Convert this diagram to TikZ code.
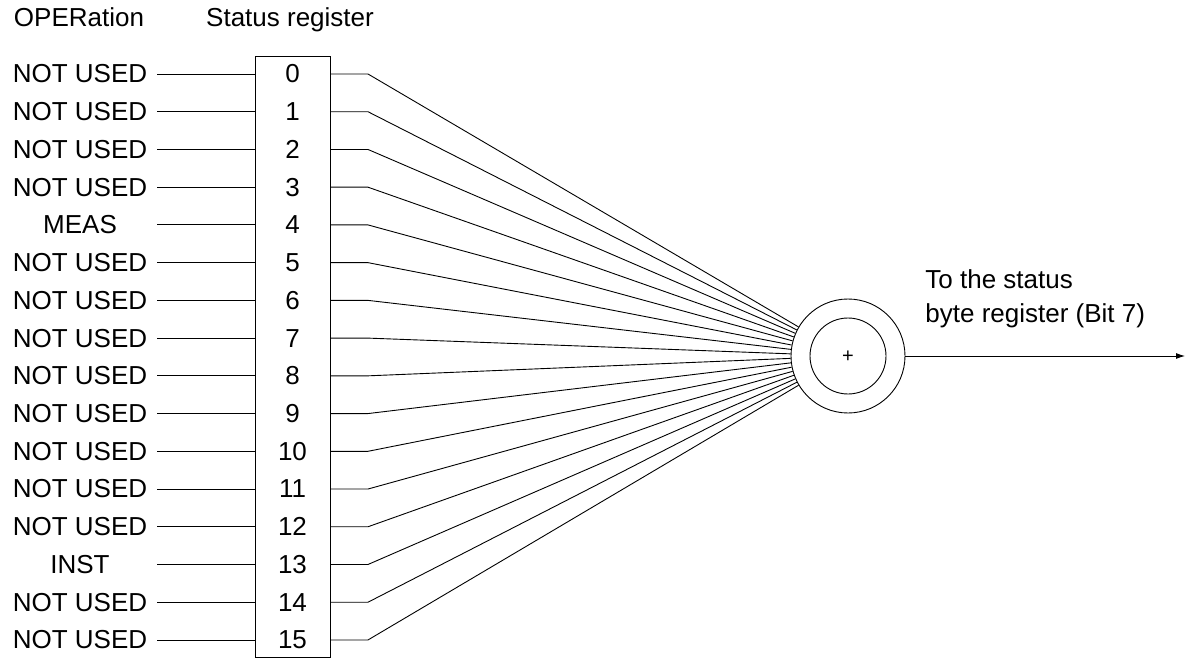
\documentclass[tikz,border=0pt]{standalone}
\usepackage{fontspec}
\setmainfont{Liberation Sans}
\usetikzlibrary{arrows.meta}
\begin{document}
\begin{tikzpicture}[x=1pt,y=-1pt, line width=0.9pt,
  lbl/.style={font=\fontsize{26}{34}\selectfont, inner sep=0pt},
  regbox/.style={draw, minimum width=75pt, minimum height=601pt, inner sep=0pt},
  ring/.style={circle, draw, inner sep=0pt},
  wire/.style={line width=0.9pt}]
\useasboundingbox (0,0) rectangle (1186,660);
\node[lbl, anchor=base] (h1) at (79,27) {OPERation};
\node[lbl, anchor=base] (h2) at (290,27) {Status register};
\node[regbox] (reg) at (292.5,356.5) {};
\node[ring, minimum size=114pt] (c) at (848,356) {};
\node[ring, minimum size=76pt] (ci) at (848,356) {};
\node[font=\fontsize{20}{20}\selectfont, inner sep=0pt] (plus) at (848,357) {+};
\foreach \i/\t in {0/NOT USED,1/NOT USED,2/NOT USED,3/NOT USED,4/MEAS,5/NOT USED,6/NOT USED,7/NOT USED,8/NOT USED,9/NOT USED,10/NOT USED,11/NOT USED,12/NOT USED,13/INST,14/NOT USED,15/NOT USED}{
  \node[lbl] (l\i) at (80,{74+37.73*\i}) {\t};
  \node[lbl] (n\i) at (292.5,{74+37.73*\i}) {\i};
  \coordinate (a\i) at (157,{74+37.73*\i});
  \coordinate (s\i) at (368,{74+37.73*\i});
  \draw[wire] (a\i) -- (a\i -| reg.west);
  \draw[wire] (s\i -| reg.east) -- (s\i) -- (c);
}
\coordinate (out) at (1185,356);
\draw[wire, -{Latex[length=9pt,width=6pt]}] (c) -- (out);
\node[lbl, anchor=west, align=left] (t) at (925,299) {To the status\\byte register (Bit 7)};
\end{tikzpicture}
\end{document}
